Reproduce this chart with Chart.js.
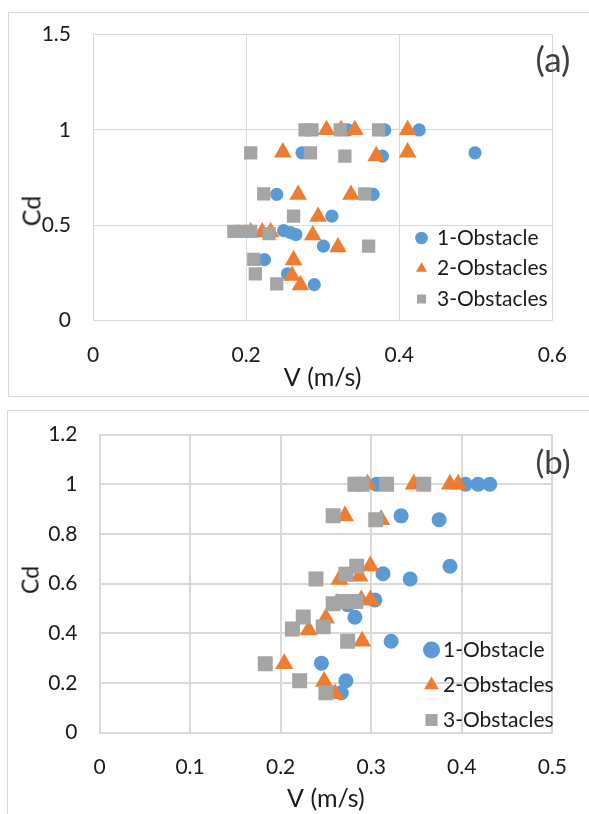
<!DOCTYPE html>
<html>
<head>
<title>Cd vs V</title>
<meta charset="UTF-8">
<script src="https://cdn.jsdelivr.net/npm/chart.js@4.4.1/dist/chart.umd.min.js"></script>
<style>
    body { margin: 0; background: #fff; font-family: Lato, sans-serif; }
    #page { position: relative; width: 589px; height: 814px; overflow: hidden; }
    .frame { position: absolute; border: 1px solid #d9d9d9; box-sizing: border-box; }
    #frameA { left: 8px; top: 12px; width: 640px; height: 385px; }
    #frameB { left: 7px; top: 410px; width: 640px; height: 460px; }
    canvas { position: absolute; left: 0; }
    #chartA { top: 0; }
    #chartB { top: 400px; }
    .tag, .ylab { position: absolute; line-height: 1; white-space: nowrap; }
    .tag { color: #404040; transform: translate(-50%, -50%); }
    .ylab { color: #1a1a1a; transform: translate(-50%, -50%) rotate(-90deg); }
</style>
</head>
<body>
<div id="page">
    <div class="frame" id="frameA"></div>
    <div class="frame" id="frameB"></div>
    <canvas id="chartA" width="589" height="400"></canvas>
    <canvas id="chartB" width="589" height="414"></canvas>
    <div class="tag" style="left:553px; top:58px; font-size:35px;">(a)</div>
    <div class="tag" style="left:553px; top:461px; font-size:33px;">(b)</div>
    <div class="ylab" style="left:31px; top:211px; font-size:25px;">Cd</div>
    <div class="ylab" style="left:30px; top:580px; font-size:23px;">Cd</div>
</div>

<script>
    const seriesNames = ['1-Obstacle', '2-Obstacles', '3-Obstacles'];
    const seriesColors = ['#5B9BD5', '#ED7D31', '#A5A5A5'];
    const seriesShapes = ['circle', 'triangle', 'rect'];

    // panel (a)
    const aV1  = [0.426, 0.381, 0.333, 0.499, 0.273, 0.378, 0.240, 0.366, 0.312, 0.249, 0.258, 0.265, 0.301, 0.224, 0.254, 0.289];
    const aCd1 = [1.0, 1.0, 1.0, 0.88, 0.88, 0.863, 0.662, 0.662, 0.548, 0.472, 0.462, 0.452, 0.391, 0.32, 0.246, 0.189];
    const aV2  = [0.305, 0.324, 0.342, 0.411, 0.248, 0.370, 0.411, 0.268, 0.337, 0.294, 0.206, 0.221, 0.232, 0.287, 0.320, 0.262, 0.260, 0.271];
    const aCd2 = [1.0, 1.0, 1.0, 1.0, 0.883, 0.864, 0.883, 0.661, 0.661, 0.545, 0.464, 0.464, 0.464, 0.448, 0.386, 0.318, 0.236, 0.186];
    const aV3  = [0.277, 0.286, 0.323, 0.373, 0.206, 0.284, 0.329, 0.223, 0.355, 0.262, 0.184, 0.193, 0.206, 0.230, 0.360, 0.210, 0.212, 0.240];
    const aCd3 = [1.0, 1.0, 1.0, 1.0, 0.88, 0.88, 0.863, 0.665, 0.665, 0.548, 0.468, 0.468, 0.468, 0.456, 0.391, 0.322, 0.245, 0.193];
    const aXTicks = [0, 0.2, 0.4, 0.6];
    const aYTicks = [0, 0.5, 1, 1.5];

    // panel (b)
    const bV1  = [0.306, 0.404, 0.418, 0.431, 0.333, 0.375, 0.387, 0.313, 0.343, 0.304, 0.274, 0.282, 0.322, 0.245, 0.272, 0.267];
    const bCd1 = [1.0, 1.0, 1.0, 1.0, 0.873, 0.857, 0.67, 0.64, 0.619, 0.534, 0.515, 0.465, 0.368, 0.28, 0.209, 0.161];
    const bV2  = [0.296, 0.347, 0.387, 0.396, 0.271, 0.311, 0.299, 0.265, 0.287, 0.289, 0.299, 0.262, 0.250, 0.231, 0.290, 0.204, 0.248, 0.260];
    const bCd2 = [1.0, 1.0, 1.0, 1.0, 0.872, 0.857, 0.671, 0.617, 0.63, 0.534, 0.534, 0.52, 0.461, 0.413, 0.368, 0.278, 0.206, 0.157];
    const bV3  = [0.282, 0.290, 0.317, 0.358, 0.258, 0.305, 0.239, 0.272, 0.284, 0.258, 0.269, 0.283, 0.225, 0.213, 0.247, 0.274, 0.183, 0.221, 0.250];
    const bCd3 = [1.0, 1.0, 1.0, 1.0, 0.873, 0.857, 0.619, 0.638, 0.67, 0.519, 0.528, 0.528, 0.466, 0.417, 0.426, 0.368, 0.278, 0.209, 0.161];
    const bXTicks = [0, 0.1, 0.2, 0.3, 0.4, 0.5];
    const bYTicks = [0, 0.2, 0.4, 0.6, 0.8, 1, 1.2];

    // moves the legend to a fixed spot inside the plot
    const legendSpot = {
        id: 'legendSpot',
        afterLayout(chart, args, opts) {
            const lg = chart.legend;
            lg.left = opts.x;
            lg.top = opts.y;
            lg.right = opts.x + lg.width;
            lg.bottom = opts.y + 200;
            lg.height = 200;
        }
    };

    function points(v, cd) {
        return v.map((x, i) => ({x: x, y: cd[i]}));
    }

    function axis(ticks, size, gridWidth, pad) {
        return {
            type: 'linear',
            min: ticks[0],
            max: ticks[ticks.length - 1],
            afterBuildTicks: s => { s.ticks = ticks.map(v => ({value: v})); },
            afterFit: s => {
                if (s.isHorizontal()) s.height = size; else s.width = size;
            },
            grid: {color: '#d9d9d9', lineWidth: gridWidth, drawTicks: false},
            border: {color: '#d9d9d9', width: gridWidth},
            ticks: {
                padding: pad,
                color: '#1a1a1a',
                font: {family: 'Lato', size: 21},
                callback: v => String(v)
            }
        };
    }

    function makeChart(id, data, radii, p) {
        const datasets = data.map((d, i) => ({
            label: seriesNames[i],
            data: points(d[0], d[1]),
            pointStyle: seriesShapes[i],
            backgroundColor: seriesColors[i],
            borderColor: seriesColors[i],
            borderWidth: 0,
            pointRadius: radii[i],
            order: 3 - i
        }));
        const x = axis(p.xTicks, p.xSize, p.grid, p.xPad);
        x.title = {display: true, text: 'V (m/s)', color: '#1a1a1a',
                   font: {family: 'Lato', size: 25}, padding: {top: 0, bottom: p.titlePad}};
        const y = axis(p.yTicks, p.ySize, p.grid, p.yPad);

        return new Chart(document.getElementById(id), {
            type: 'scatter',
            data: {datasets: datasets},
            plugins: [legendSpot],
            options: {
                responsive: false,
                animation: false,
                events: [],
                layout: {padding: {left: 0, top: p.top, right: p.right, bottom: 0}},
                scales: {x: x, y: y},
                plugins: {
                    tooltip: {enabled: false},
                    legendSpot: {x: p.legendX, y: p.legendY},
                    legend: {
                        position: 'chartArea',
                        align: 'start',
                        labels: {
                            usePointStyle: true,
                            boxWidth: p.boxWidth,
                            boxHeight: p.boxHeight,
                            padding: p.legendPad,
                            color: '#1a1a1a',
                            font: {family: 'Lato', size: 21},
                            sort: (a, b) => a.datasetIndex - b.datasetIndex
                        }
                    }
                }
            }
        });
    }

    makeChart('chartA', [[aV1, aCd1], [aV2, aCd2], [aV3, aCd3]], [6.6, 10.2, 9.4], {
        xTicks: aXTicks, yTicks: aYTicks, grid: 1,
        top: 30, right: 30, ySize: 93, xSize: 79.3,
        xPad: 22, yPad: 22, titlePad: 7,
        legendX: 407, legendY: 218, boxWidth: 10, boxHeight: 9, legendPad: 9.5
    });

    makeChart('chartB', [[bV1, bCd1], [bV2, bCd2], [bV3, bCd3]], [7.5, 10.5, 10.6], {
        xTicks: bXTicks, yTicks: bYTicks, grid: 2,
        top: 26, right: 25.5, ySize: 99.5, xSize: 81.3,
        xPad: 22, yPad: 22, titlePad: 0.5,
        legendX: 416.5, legendY: 225.5, boxWidth: 2, boxHeight: 12, legendPad: 14
    });
</script>
</body>
</html>
